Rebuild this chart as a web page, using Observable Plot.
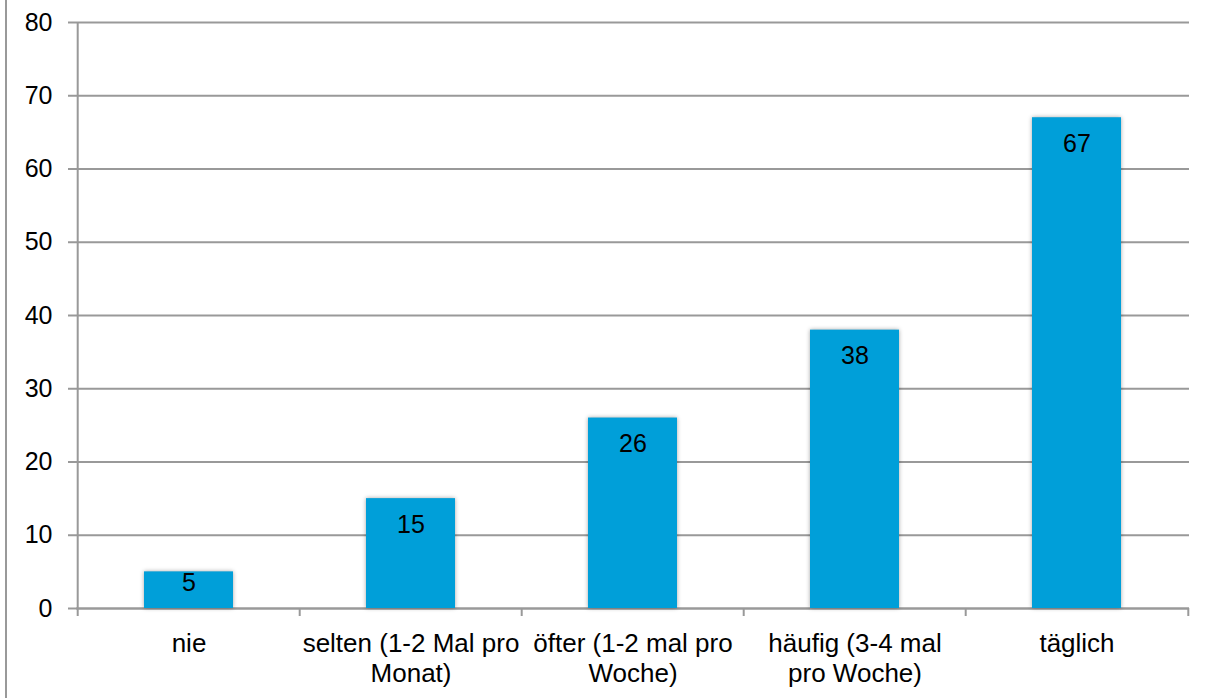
<!DOCTYPE html>
<html>
<head>
<meta charset="utf-8">
<script src="https://cdn.jsdelivr.net/npm/d3@7"></script>
<script src="https://cdn.jsdelivr.net/npm/@observablehq/plot@0.6"></script>
<style>
  html, body { margin: 0; padding: 0; background: #fff; }
  #wrap { position: relative; width: 1210px; height: 698px; }
  #border { position: absolute; left: 5px; top: 0; width: 2px; height: 698px; background: #999; }
  svg { font-family: "Liberation Sans", Arial, sans-serif; }
</style>
</head>
<body>
<div id="wrap"><div id="border"></div><div id="chart"></div></div>
<script>
const categories = [
  "nie",
  "selten (1-2 Mal pro Monat)",
  "öfter (1-2 mal pro Woche)",
  "häufig (3-4 mal pro Woche)",
  "täglich"
];
const tickLabels = [
  "nie",
  "selten (1-2 Mal pro\nMonat)",
  "öfter (1-2 mal pro\nWoche)",
  "häufig (3-4 mal\npro Woche)",
  "täglich"
];
const values = [5, 15, 26, 38, 67];
const yTicks = [0, 10, 20, 30, 40, 50, 60, 70, 80];

const data = categories.map((c, i) => ({category: c, value: values[i]}));
const labelOf = new Map(categories.map((c, i) => [c, tickLabels[i]]));

const W = 1210, H = 698, ML = 76, MR = 21, MT = 22, MB = 90;
const halfStep = (W - ML - MR) / categories.length / 2;
const grid = "#999";
const FS = 25;
const pxPerUnit = (H - MT - MB) / 80;
const fits = d => d.value * pxPerUnit > 52;

const chart = Plot.plot({
  width: W,
  height: H,
  marginLeft: ML,
  marginRight: MR,
  marginTop: MT,
  marginBottom: MB,
  style: {fontFamily: "Liberation Sans, Arial, sans-serif", fontSize: FS + "px", color: "#000", background: "#fff"},
  x: {type: "band", domain: categories, paddingInner: 0.6, paddingOuter: 0.3, label: null},
  y: {domain: [0, 80], label: null},
  marks: [
    Plot.gridY(yTicks, {stroke: grid, strokeOpacity: 1, strokeWidth: 2}),
    Plot.axisY(yTicks, {tickSize: 8, tickPadding: 16, stroke: grid, strokeWidth: 2, fontSize: FS, fill: "#000", label: null}),
    Plot.axisX({tickSize: 0, tickPadding: 22, fontSize: 26, fill: "#000", lineHeight: 1.15, tickFormat: d => labelOf.get(d), label: null}),
    // left axis line (first category boundary), full height
    Plot.ruleX([categories[0]], {x: d => d, y1: 80, y2: 0, dx: -halfStep, insetBottom: -8, stroke: grid, strokeWidth: 2}),
    // category boundary ticks
    Plot.ruleX(categories.slice(1), {x: d => d, y1: 0, y2: 0, dx: -halfStep, insetBottom: -8, stroke: grid, strokeWidth: 2}),
    Plot.ruleX([categories[categories.length - 1]], {x: d => d, y1: 0, y2: 0, dx: halfStep, insetBottom: -8, stroke: grid, strokeWidth: 2}),
    Plot.ruleY([0], {stroke: grid, strokeWidth: 2}),
    Plot.barY(data, {x: "category", y: "value", fill: "#009fd9", className: "bars"}),
    Plot.text(data.filter(fits), {x: "category", y: "value", text: d => String(d.value), dy: 26, fontSize: FS, fill: "#000", lineAnchor: "middle"}),
    Plot.text(data.filter(d => !fits(d)), {x: "category", y: () => 0, text: d => String(d.value), dy: -26, fontSize: FS, fill: "#000", lineAnchor: "middle"})
  ]
});
chart.querySelectorAll(".bars rect").forEach(r => {
  r.style.filter = "drop-shadow(0px 0px 2px rgba(0,0,0,0.35))";
});
document.getElementById("chart").appendChild(chart);
</script>
</body>
</html>
